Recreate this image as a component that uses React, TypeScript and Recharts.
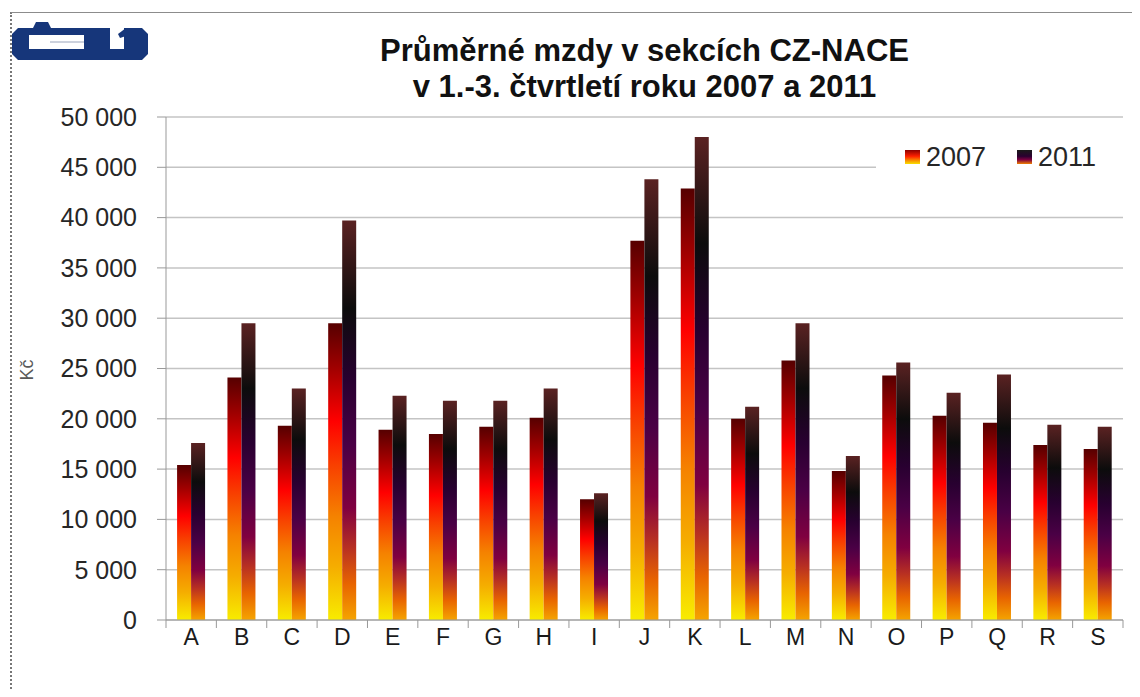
import React from 'react';
import { BarChart, Bar, XAxis, YAxis, CartesianGrid } from 'recharts';

const categories = ['A', 'B', 'C', 'D', 'E', 'F', 'G', 'H', 'I', 'J', 'K', 'L', 'M', 'N', 'O', 'P', 'Q', 'R', 'S'];
const wages2007 = [15400, 24100, 19300, 29500, 18900, 18500, 19200, 20100, 12000, 37700, 42900, 20000, 25800, 14800, 24300, 20300, 19600, 17400, 17000];
const wages2011 = [17600, 29500, 23000, 39700, 22300, 21800, 21800, 23000, 12600, 43800, 48000, 21200, 29500, 16300, 25600, 22600, 24400, 19400, 19200];
const yTicks = [0, 5000, 10000, 15000, 20000, 25000, 30000, 35000, 40000, 45000, 50000];

const data = categories.map((name, i) => ({ name, y2007: wages2007[i], y2011: wages2011[i] }));

const fmt = (v: number) => String(v).replace(/\B(?=(\d{3})+(?!\d))/g, ' ');

const CategoryTick = (props: any) => {
  const { x, y, payload, index } = props;
  const half = payload && payload.offset ? payload.offset : 25.2;
  const axisY = y - 8;
  return (
    <g>
      <line x1={x - half} y1={axisY} x2={x - half} y2={axisY + 8} stroke="#999" />
      {index === categories.length - 1 && (
        <line x1={x + half} y1={axisY} x2={x + half} y2={axisY + 8} stroke="#999" />
      )}
      <text x={x} y={y + 17} textAnchor="middle" fontSize={23} fill="#1a1a1a">
        {payload.value}
      </text>
    </g>
  );
};

// rough ČSÚ logo
const Logo = () => (
  <svg width={160} height={70} style={{ position: 'absolute', left: 0, top: 0 }}>
    <path d="M12 34 L18 28 L142 28 L148 34 L148 54 L142 60 L18 60 L12 54 Z" fill="#16367a" />
    <path d="M33 28 L36 22 L48 22 L51 28 Z" fill="#16367a" />
    <rect x={29} y={35} width={55} height={14} fill="#fff" />
    <line x1={50} y1={42} x2={84} y2={42} stroke="#9aa4bb" strokeWidth={1} />
    <rect x={110} y={28} width={14} height={21} fill="#fff" />
    <path d="M118 34 L126 28 L126 36 L120 38 Z" fill="#16367a" />
  </svg>
);

const App: React.FC = () => {
  return (
    <div style={{ position: 'relative', width: 1140, height: 697, margin: -8, background: '#fff', fontFamily: '"Liberation Sans", Arial, sans-serif', overflow: 'hidden' }}>
      <div style={{ position: 'absolute', left: 10, top: 12, right: 0, bottom: 0, borderTop: '1px solid #8c8c8c', borderLeft: '2px dotted #777' }} />
      <Logo />
      <div style={{ position: 'absolute', left: 166, width: 957, top: 33, textAlign: 'center', fontWeight: 'bold', fontSize: 31, lineHeight: '36px', color: '#111' }}>
        <div>Průměrné mzdy v sekcích CZ-NACE</div>
        <div>v 1.-3. čtvrtletí roku 2007 a 2011</div>
      </div>
      <div style={{ position: 'absolute', left: 0, top: 0 }}>
        <BarChart width={1140} height={697} data={data} margin={{ top: 117, right: 17, bottom: 37, left: 0 }} barCategoryGap="22%" barGap={0}>
          <defs>
            <linearGradient id="g2007" x1="0" y1="0" x2="0" y2="1">
              <stop offset="0%" stopColor="#560000" />
              <stop offset="15%" stopColor="#a00000" />
              <stop offset="33%" stopColor="#ff0000" />
              <stop offset="48%" stopColor="#f84000" />
              <stop offset="65%" stopColor="#f58200" />
              <stop offset="82%" stopColor="#f5ad00" />
              <stop offset="100%" stopColor="#f8ec00" />
            </linearGradient>
            <linearGradient id="g2011" x1="0" y1="0" x2="0" y2="1">
              <stop offset="0%" stopColor="#5a2222" />
              <stop offset="22%" stopColor="#0c0c0c" />
              <stop offset="40%" stopColor="#280030" />
              <stop offset="56%" stopColor="#4a0045" />
              <stop offset="72%" stopColor="#800040" />
              <stop offset="82%" stopColor="#b83022" />
              <stop offset="91%" stopColor="#e86400" />
              <stop offset="100%" stopColor="#f5a400" />
            </linearGradient>
          </defs>
          <CartesianGrid vertical={false} stroke="#c4c4c4" strokeWidth={1.5} />
          <XAxis dataKey="name" height={40} interval={0} tickLine={false} tickSize={8} tickMargin={0} axisLine={{ stroke: '#999' }} tick={<CategoryTick />} />
          <YAxis
            width={166}
            domain={[0, 50000]}
            ticks={yTicks}
            interval={0}
            tickFormatter={fmt}
            tickSize={9}
            tickMargin={20}
            axisLine={{ stroke: '#999' }}
            tickLine={{ stroke: '#999' }}
            tick={{ fill: '#262626', fontSize: 25 }}
          />
          <Bar dataKey="y2007" name="2007" fill="url(#g2007)" isAnimationActive={false} />
          <Bar dataKey="y2011" name="2011" fill="url(#g2011)" isAnimationActive={false} />
        </BarChart>
      </div>
      <div style={{ position: 'absolute', left: 27, top: 370, transform: 'translate(-50%, -50%) rotate(-90deg)', fontSize: 18, color: '#595959' }}>Kč</div>
      <div style={{ position: 'absolute', left: 876, top: 135, width: 247, height: 44, background: '#fff', display: 'flex', alignItems: 'center', fontSize: 27, color: '#262626' }}>
        <span style={{ display: 'inline-block', width: 15, height: 14, marginLeft: 29, marginRight: 6, background: 'linear-gradient(#8a0000, #ff2000 45%, #f7a000 80%, #f8e000)' }} />
        <span>2007</span>
        <span style={{ display: 'inline-block', width: 15, height: 14, marginLeft: 31, marginRight: 6, background: 'linear-gradient(#1a1a1a, #2a0030 45%, #800040 70%, #f08000)' }} />
        <span>2011</span>
      </div>
    </div>
  );
};

export default App;
